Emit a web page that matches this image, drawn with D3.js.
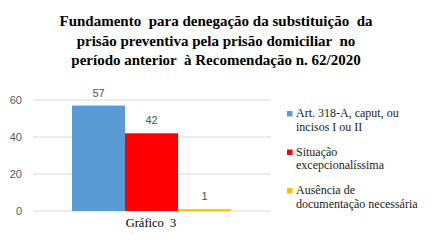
<!DOCTYPE html>
<html>
<head>
<meta charset="utf-8">
<script src="https://cdn.jsdelivr.net/npm/d3@7"></script>
<style>
  body { margin: 0; background: #fff; }
  svg { display: block; }
  .serif { font-family: "Liberation Serif", "Times New Roman", Tinos, serif; }
  .sans { font-family: "Liberation Sans", Arial, sans-serif; }
</style>
</head>
<body>
<svg id="chart" width="435" height="246"></svg>
<script>
const titleLines = [
  "Fundamento  para denegação da substituição  da",
  "prisão preventiva pela prisão domiciliar  no",
  "período anterior  à Recomendação n. 62/2020"
];
const series = [
  "Art. 318-A, caput, ou incisos I ou II",
  "Situação excepcionalíssima",
  "Ausência de documentação necessária"
];
const legendLines = [
  ["Art. 318-A, caput, ou", "incisos I ou II"],
  ["Situação", "excepcionalíssima"],
  ["Ausência de", "documentação necessária"]
];
const values = [57, 42, 1];
const colors = ["#5B9BD5", "#FF0000", "#FFC000"];
const yTicks = [0, 20, 40, 60];
const category = "Gráfico  3";

const svg = d3.select("#chart");

// title
svg.append("text")
  .attr("class", "serif")
  .attr("x", 216)
  .attr("y", 26)
  .attr("text-anchor", "middle")
  .attr("font-weight", "bold")
  .attr("font-size", 15)
  .style("white-space", "pre")
  .selectAll("tspan")
  .data(titleLines)
  .join("tspan")
  .attr("x", 216)
  .attr("dy", (d, i) => i === 0 ? 0 : 19.5)
  .text(d => d);

const plot = { left: 33, right: 271, top: 100, bottom: 211 };

const y = d3.scaleLinear().domain([0, 60]).range([plot.bottom, plot.top]);
const x = d3.scaleBand().domain(series).range([72, 231]).paddingInner(0);

// gridlines
svg.append("g")
  .selectAll("line")
  .data(yTicks)
  .join("line")
  .attr("x1", plot.left)
  .attr("x2", plot.right)
  .attr("y1", d => y(d))
  .attr("y2", d => y(d))
  .attr("stroke", "#d9d9d9")
  .attr("stroke-width", 1);

// y axis labels
const yAxis = d3.axisLeft(y).tickValues(yTicks).tickSize(0).tickPadding(0);
const ya = svg.append("g")
  .attr("transform", "translate(22,0)")
  .call(yAxis);
ya.select(".domain").remove();
ya.selectAll("text")
  .attr("class", "sans")
  .attr("fill", "#595959")
  .attr("font-size", 11);

// bars
svg.append("g")
  .selectAll("rect")
  .data(values)
  .join("rect")
  .attr("x", (d, i) => x(series[i]))
  .attr("width", x.bandwidth())
  .attr("y", d => y(d))
  .attr("height", d => Math.max(y(0) - y(d), 2))
  .attr("fill", (d, i) => colors[i]);

// value labels
svg.append("g")
  .selectAll("text")
  .data(values)
  .join("text")
  .attr("class", "sans")
  .attr("x", (d, i) => x(series[i]) + x.bandwidth() / 2)
  .attr("y", d => y(d) - 9)
  .attr("text-anchor", "middle")
  .attr("fill", "#505050")
  .attr("font-size", 11)
  .text(d => d);

// category label
svg.append("text")
  .attr("class", "serif")
  .attr("x", 151)
  .attr("y", 227)
  .attr("text-anchor", "middle")
  .attr("font-size", 12.5)
  .style("white-space", "pre")
  .text(category);

// legend
const legend = svg.append("g");
const lg = legend.selectAll("g")
  .data(legendLines)
  .join("g")
  .attr("transform", (d, i) => `translate(287,${117 + i * 38.5})`);
lg.append("rect")
  .attr("x", 0)
  .attr("y", -6)
  .attr("width", 5.5)
  .attr("height", 5.5)
  .attr("fill", (d, i) => colors[i]);
lg.append("text")
  .attr("class", "serif")
  .attr("font-size", 12)
  .attr("fill", "#1a1a1a")
  .selectAll("tspan")
  .data(d => d)
  .join("tspan")
  .attr("x", 9)
  .attr("dy", (d, i) => i === 0 ? 0 : 13.5)
  .text(d => d);
</script>
</body>
</html>
